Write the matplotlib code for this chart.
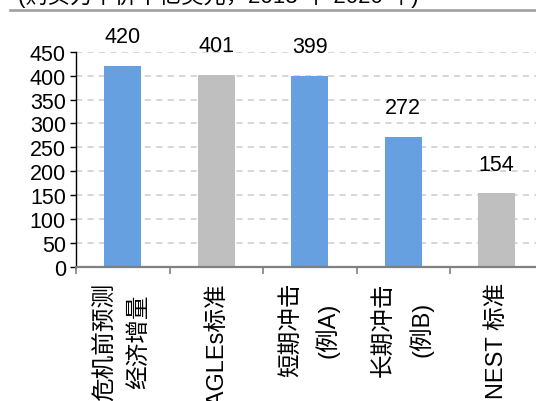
import numpy as np
import matplotlib
matplotlib.use("Agg")
import matplotlib.pyplot as plt
from matplotlib.lines import Line2D

plt.rcParams['font.family'] = ['Liberation Sans', 'Noto Sans CJK SC']

title = "(购买力平价十亿美元，2013 年-2020 年)"
categories = ["危机前预测\n经济增量", "EAGLEs标准", "短期冲击\n(例A)", "长期冲击\n(例B)", "NEST 标准"]
values = [420, 401, 399, 272, 154]
colors = ["#66a0e0", "#bfbfbf", "#66a0e0", "#66a0e0", "#bfbfbf"]
yticks = np.arange(0, 451, 50)

W, H = 536, 402
fig = plt.figure(figsize=(W / 100, H / 100), dpi=100)
ax = fig.add_axes([76 / W, 1 - 268 / H, (543.5 - 76) / W, (268 - 52.7) / H])

x = np.arange(len(values))
ax.bar(x, values, width=0.4, color=colors, zorder=2)
for xi, v in zip(x, values):
    ax.annotate(str(v), (xi, v), xytext=(0, 21), textcoords="offset points",
                ha="center", va="center", fontsize=15.5)

ax.set_xlim(-0.5, len(values) - 0.5)
ax.set_ylim(0, 450)
ax.set_yticks(yticks)
ax.tick_params(axis="y", labelsize=15.5, length=4.3, width=1, pad=3, color="black")
ax.yaxis.grid(True, color="#cccccc", linestyle=(0, (4, 3.5)), lw=1.1)
ax.set_axisbelow(True)

ax.set_xticks(x)
ax.set_xticklabels(categories, rotation=90, fontsize=17, linespacing=1.65)
for lab in ax.get_xticklabels():
    lab.set_multialignment("center")
ax.tick_params(axis="x", which="major", length=0, pad=10.5)
ax.set_xticks(np.arange(-0.5, len(values)), minor=True)
ax.tick_params(axis="x", which="minor", length=5, width=1.2, color="#808080")

for s in ["top", "right"]:
    ax.spines[s].set_visible(False)
ax.spines["left"].set_color("black")
ax.spines["left"].set_linewidth(1)
ax.spines["bottom"].set_color("#808080")
ax.spines["bottom"].set_linewidth(1.6)

# header rule and cut-off subtitle
fig.add_artist(Line2D([10 / W, 1], [1 - 10.5 / H] * 2, color="#a0a0a0", lw=1.9))
fig.text(18 / W, 1 - 3 / H, title, ha="left", va="baseline", fontsize=16)

fig.savefig("out.png", dpi=100)
